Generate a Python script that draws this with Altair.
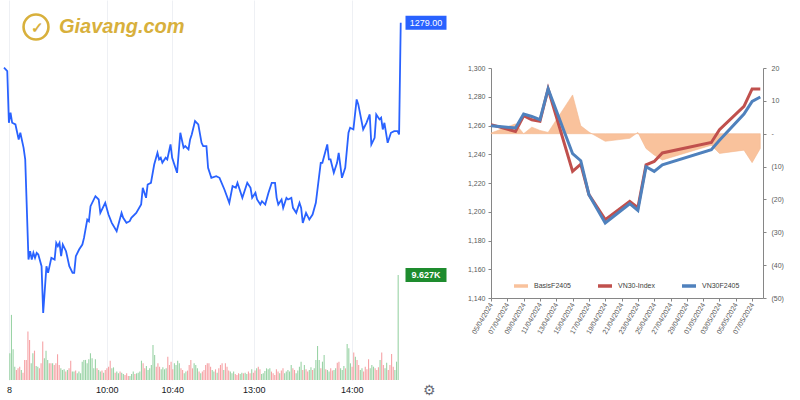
import altair as alt
import pandas as pd

# ---------------- Left panel: intraday VN30F2405 (1-minute) ----------------
tick_minutes = [0, 60, 100, 150, 210]
tick_labels = ["8", "10:00", "10:40", "13:00", "14:00"]
price_ticks = [1258, 1260, 1262, 1264, 1266, 1268, 1270, 1272, 1274, 1276, 1278, 1280]

price_minute = [-3, -1, 0, 1, 2, 4, 6, 7, 9, 10, 12, 13, 14, 15, 16, 17, 18, 20, 21, 22,
                23, 24, 26, 28, 29, 30, 31, 32, 33, 35, 37, 39, 40, 41, 43, 45, 46, 48, 49, 50,
                53, 55, 56, 59, 61, 63, 66, 69, 70, 72, 74, 75, 78, 81, 82, 84, 85, 87, 89, 91,
                92, 93, 94, 96, 97, 99, 100, 102, 103, 104, 105, 107, 108, 110, 111, 112, 114, 116, 118, 119,
                121, 122, 124, 127, 129, 132, 135, 137, 139, 140, 143, 146, 148, 149, 151, 152, 154, 155, 157, 159,
                161, 163, 164, 165, 167, 168, 170, 171, 173, 174, 176, 178, 179, 180, 182, 184, 186, 188, 189, 191,
                192, 195, 196, 197, 199, 201, 202, 204, 206, 208, 209, 211, 213, 214, 217, 219, 221, 222, 224, 225,
                227, 228, 229, 230, 232, 234, 236, 238, 239, 240]
price_value = [1276.3, 1276.1, 1273.0, 1273.6, 1273.0, 1272.9, 1272.0, 1272.4, 1271.5, 1270.8,
               1264.8, 1265.3, 1264.8, 1265.2, 1264.9, 1265.2, 1265.1, 1264.4, 1261.6, 1263.0,
               1264.4, 1264.0, 1264.9, 1264.8, 1265.8, 1265.6, 1265.8, 1265.0, 1265.7, 1265.3,
               1264.4, 1264.0, 1264.0, 1265.0, 1265.4, 1265.7, 1266.1, 1267.2, 1267.1, 1268.0,
               1268.6, 1268.4, 1267.6, 1268.2, 1267.5, 1267.0, 1266.5, 1267.6, 1267.3, 1267.0,
               1267.1, 1267.3, 1267.6, 1268.1, 1269.1, 1268.5, 1269.3, 1269.4, 1270.5, 1271.2,
               1270.8, 1270.9, 1270.6, 1270.9, 1270.8, 1271.7, 1270.9, 1270.3, 1270.0, 1271.2,
               1272.4, 1271.5, 1271.6, 1271.4, 1272.0, 1272.3, 1273.1, 1272.9, 1271.8, 1271.6,
               1271.6, 1270.3, 1269.7, 1269.8, 1269.7, 1269.0, 1268.2, 1269.2, 1269.1, 1269.4,
               1268.5, 1269.4, 1269.1, 1268.5, 1268.8, 1268.4, 1268.1, 1268.3, 1268.1, 1268.8,
               1269.4, 1269.4, 1268.5, 1268.1, 1268.4, 1267.9, 1268.5, 1268.4, 1268.5, 1267.9,
               1267.6, 1268.2, 1267.9, 1267.0, 1267.6, 1267.2, 1267.5, 1268.2, 1269.0, 1270.6,
               1270.6, 1271.7, 1270.8, 1270.8, 1270.0, 1270.6, 1271.2, 1269.7, 1270.3, 1272.4,
               1272.7, 1272.6, 1274.4, 1274.1, 1272.6, 1273.0, 1273.5, 1271.7, 1272.1, 1273.5,
               1273.2, 1273.3, 1272.6, 1273.0, 1271.8, 1272.4, 1272.5, 1272.5, 1272.3, 1279.0]

volume = [2450, 5970, 2820, 1220, 920, 1070, 1220, 920, 670, 1840,
          1840, 4440, 3670, 1530, 2450, 2690, 1290, 1220, 1070, 1530,
          3520, 1990, 2690, 1840, 1530, 1530, 1530, 1380, 1530, 2360,
          1380, 1070, 920, 980, 770, 920, 1070, 1770, 770, 770,
          860, 610, 770, 610, 1680, 1840, 1840, 1530, 1900, 2450,
          1990, 1070, 1900, 1070, 920, 770, 860, 670, 920, 1070,
          1220, 1770, 1070, 1160, 670, 770, 610, 770, 670, 550,
          460, 610, 370, 370, 550, 770, 550, 610, 670, 770,
          1770, 1530, 1070, 1290, 920, 1070, 1380, 3210, 2300, 1220,
          1530, 1220, 980, 1160, 980, 1070, 2140, 1380, 1680, 980,
          1530, 1380, 1770, 1530, 1070, 920, 610, 770, 860, 1380,
          1840, 1070, 1530, 1380, 1070, 770, 610,
          770, 920, 1380, 1530, 1530, 1220, 920, 770, 980, 670,
          1070, 1380, 1530, 920, 1530, 1220, 860, 770, 610, 770,
          550, 460, 610, 550, 670, 610, 670, 550, 770, 610,
          980, 670, 860, 1070, 1220, 980, 550, 610, 830, 1070,
          980, 1070, 770, 610, 460, 980, 770, 610, 860, 1070,
          610, 770, 920, 770, 1380, 1070, 920, 610, 860, 1220,
          1680, 920, 1380, 980, 770, 920, 1160, 920, 1070, 1840,
          3120, 1840, 1070, 1680, 2300, 980, 920, 770, 1070, 860,
          920, 1070, 1590, 1680, 1070, 920, 1290, 1070, 3300, 2910,
          1530, 1220, 2510, 2140, 1840, 1380, 920, 1070, 770, 1220,
          980, 1900, 1070, 1380, 1220, 1070, 920, 1160, 1840, 2510,
          1380, 1070, 1590, 920, 1380, 2390, 1220, 920, 1680, 9627]
volume_dir = ("ggggrrrgrr" "rrrggrggrr" "rgggrrgrrr" "rgggrgrrgg" "rggggggggg" "gggrggrgrr"
              "rrggrggrgg" "rrrgggrggg" "grrggggggr" "rrggggrrrr" "ggggrrggrr" "rrgggrg"
              "rrrrrrggrg" "rrrgrrrggg" "rrrggrggrr" "grrgrrgggg" "ggrrrrrgrr" "gggggrrggg"
              "grgrrggrgg" "ggrggrggrr" "ggrrgggrgg" "grrgrrggrr" "rrgggrrrgr" "rggrrrrggg")

last_price = price_value[-1]
last_volume = volume[-1]

# ---------------- Right panel: VN30-Index vs VN30F2405 and basis ----------------
dates = ["2024-04-05", "2024-04-08", "2024-04-09", "2024-04-10", "2024-04-11", "2024-04-12",
         "2024-04-15", "2024-04-16", "2024-04-17", "2024-04-19", "2024-04-22", "2024-04-23",
         "2024-04-24", "2024-04-25", "2024-04-26", "2024-05-02", "2024-05-03", "2024-05-06",
         "2024-05-07", "2024-05-08"]
vn30_index = [1260.6, 1255.9, 1266.8, 1264.0, 1262.9, 1285.4, 1228.1, 1233.1, 1211.9, 1194.5,
              1207.2, 1202.8, 1232.7, 1235.0, 1240.9, 1248.2, 1257.1, 1273.3, 1285.4, 1285.4]
vn30f2405 = [1259.9, 1258.3, 1268.0, 1266.3, 1264.0, 1285.4, 1240.4, 1235.5, 1211.9, 1192.2,
             1205.6, 1200.9, 1231.3, 1228.1, 1232.7, 1243.2, 1249.8, 1267.9, 1276.8, 1279.8]
basis = [0.2, 3.0, 0.0, 2.0, 1.0, 0.4, 11.8, 2.4, 0.5, -2.3,
         -1.4, 0.4, -4.5, -6.5, -8.0, -3.5, -6.0, -5.0, -8.8, -4.5]
date_ticks = [(4, 5), (4, 7), (4, 9), (4, 11), (4, 13), (4, 15), (4, 17), (4, 19), (4, 21),
              (4, 23), (4, 25), (4, 27), (4, 29), (5, 1), (5, 3), (5, 5), (5, 7)]
series_names = ["BasisF2405", "VN30-Index", "VN30F2405"]
series_colors = ["#F9C29C", "#C0504D", "#4F81BD"]

FONT = "Liberation Sans"

# ======== Left chart ========
x_expr = " : ".join(f"datum.value == {m} ? '{l}'" for m, l in zip(tick_minutes, tick_labels)) + " : ''"
price_scale = alt.Scale(domain=[1257.58, 1280.36], nice=False, zero=False)

price_df = pd.DataFrame({"minute": price_minute, "price": price_value})
line = alt.Chart(price_df).mark_line(color="#2962FF", strokeWidth=1.8).encode(
    x=alt.X("minute:Q", scale=alt.Scale(domain=[-3, 242], nice=False, zero=False),
            axis=alt.Axis(values=tick_minutes, labelExpr=x_expr, grid=True, gridColor="#eef0f4",
                          ticks=False, domain=False, labelFontSize=9, labelColor="#131722",
                          labelPadding=5, labelFlush=False, labelOverlap=False, title=None)),
    y=alt.Y("price:Q", scale=price_scale,
            axis=alt.Axis(orient="right", values=price_ticks, format=".2f", grid=True,
                          gridColor="#eef0f4", ticks=False, domain=False, labelFontSize=9,
                          labelColor="#131722", labelPadding=6, title=None)),
)
plab_df = pd.DataFrame({"price": [last_price], "text": [f"{last_price:.2f}"]})
pbox = alt.Chart(plab_df).mark_point(shape="M-1,-0.34H1V0.34H-1Z", size=1681, filled=True,
                                     opacity=1, color="#2962FF", strokeWidth=0).encode(
    x=alt.value(422), y=alt.Y("price:Q", scale=price_scale, axis=None))
ptext = alt.Chart(plab_df).mark_text(color="white", fontSize=9, font=FONT).encode(
    x=alt.value(422), y=alt.Y("price:Q", scale=price_scale, axis=None), text="text:N")

logo_df = pd.DataFrame({"t": ["Giavang.com"]})
logo_text = alt.Chart(logo_df).mark_text(fontSize=20, fontWeight="bold", fontStyle="italic",
                                         color="#D8B03C", font=FONT, align="left").encode(
    x=alt.value(55), y=alt.value(27), text="t:N")
logo_ring = alt.Chart(logo_df).mark_point(shape="circle", size=620, filled=False,
                                          color="#D8B03C", strokeWidth=2.6, opacity=1).encode(
    x=alt.value(32), y=alt.value(27))
logo_mark = alt.Chart(pd.DataFrame({"t": ["✓"]})).mark_text(fontSize=15, fontWeight="bold",
                                                             color="#D8B03C").encode(
    x=alt.value(33), y=alt.value(28), text="t:N")
gear = alt.Chart(pd.DataFrame({"t": ["⚙"]})).mark_text(fontSize=14, color="#6a6d78").encode(
    x=alt.value(425), y=alt.value(391), text="t:N")

price_layer = alt.layer(line, logo_ring, logo_mark, logo_text, gear, pbox, ptext)

vol_scale = alt.Scale(domain=[0, 34840], nice=False, zero=True)
vol_df = pd.DataFrame({
    "i": list(range(len(volume))),
    "vol": volume,
    "col": ["#9AD3A6" if d == "g" else "#F6A3A6" for d in volume_dir],
})
bars = alt.Chart(vol_df).mark_bar(size=1.1).encode(
    x=alt.X("i:Q", scale=alt.Scale(domain=[-0.5, len(volume) - 0.5], nice=False, zero=False), axis=None),
    y=alt.Y("vol:Q", scale=vol_scale, axis=None),
    color=alt.Color("col:N", scale=None),
)
vlab_df = pd.DataFrame({"vol": [last_volume], "text": [f"{last_volume/1000:.3f}K"]})
vbox = alt.Chart(vlab_df).mark_point(shape="M-1,-0.34H1V0.34H-1Z", size=1681, filled=True,
                                     opacity=1, color="#1E8C2E", strokeWidth=0).encode(
    x=alt.value(422), y=alt.Y("vol:Q", scale=vol_scale, axis=None))
vtext = alt.Chart(vlab_df).mark_text(color="white", fontSize=9, font=FONT, fontWeight="bold").encode(
    x=alt.value(422), y=alt.Y("vol:Q", scale=vol_scale, axis=None), text="text:N")
vol_layer = alt.layer(bars, vbox, vtext)

left = alt.layer(vol_layer, price_layer).resolve_scale(x="independent", y="independent").properties(
    width=400, height=380)

# ======== Right chart ========
x_dates = alt.X("date:T",
                scale=alt.Scale(type="utc", domain=[alt.DateTime(year=2024, month=4, date=5, utc=True),
                                                    alt.DateTime(year=2024, month=5, date=8, hours=8, utc=True)]),
                axis=alt.Axis(values=[alt.DateTime(year=2024, month=m, date=d, utc=True) for m, d in date_ticks],
                              format="%d/%m/%Y", labelAngle=300, labelFontSize=7, labelColor="#595959",
                              labelFont=FONT, domainColor="#868686", tickColor="#868686", tickSize=3,
                              labelPadding=2, grid=False, labelOverlap=False, labelFlush=False, title=None))
color_enc = alt.Color("series:N", scale=alt.Scale(domain=series_names, range=series_colors),
                      legend=alt.Legend(orient="none", legendX=21, legendY=209, direction="horizontal",
                                        title=None, symbolType="stroke", symbolSize=196,
                                        symbolStrokeWidth=3.5, labelFontSize=7, labelFont=FONT,
                                        labelColor="#404040", columnPadding=20, labelOffset=4))

basis_df = pd.DataFrame({"date": dates, "value": basis, "series": "BasisF2405"})
area = alt.Chart(basis_df).mark_area(stroke="#F4B890", strokeWidth=0.6, opacity=1).encode(
    x=x_dates,
    y=alt.Y("value:Q", scale=alt.Scale(domain=[-50, 20], nice=False),
            axis=alt.Axis(orient="right", values=list(range(-50, 21, 10)),
                          labelExpr="datum.value == 0 ? '-' : (datum.value < 0 ? '(' + abs(datum.value) + ')' : datum.value)",
                          labelFontSize=7, labelColor="#595959", labelFont=FONT, domainColor="#868686",
                          tickColor="#868686", tickSize=3, labelPadding=5, grid=False, title=None)),
    y2=alt.datum(0),
    color=color_enc,
)
lines_df = pd.concat([
    pd.DataFrame({"date": dates, "value": vn30_index, "series": "VN30-Index"}),
    pd.DataFrame({"date": dates, "value": vn30f2405, "series": "VN30F2405"}),
])
lines = alt.Chart(lines_df).mark_line(strokeWidth=3).encode(
    x=x_dates,
    y=alt.Y("value:Q", scale=alt.Scale(domain=[1140, 1300], nice=False, zero=False),
            axis=alt.Axis(orient="left", values=list(range(1140, 1301, 20)), format=",.0f",
                          labelFontSize=7, labelColor="#595959", labelFont=FONT, domainColor="#868686",
                          tickColor="#868686", tickSize=3, labelPadding=3, grid=False, title=None)),
    color=color_enc,
    order=alt.Order("series:N"),
)
right = alt.layer(area, lines).resolve_scale(y="independent").properties(width=272, height=230)

spacer = alt.Chart(pd.DataFrame({"v": [0]})).mark_point(size=0, opacity=0).encode(
    x=alt.value(0), y=alt.value(0)).properties(width=272, height=68)
right_col = alt.vconcat(spacer, right, spacing=0, bounds="flush").resolve_scale(color="independent")

chart = alt.hconcat(left, right_col, spacing=87, bounds="flush").resolve_scale(
    color="independent"
).properties(
    padding=0, background="white"
).configure(font=FONT).configure_view(stroke=None)

chart.save("out.html", embed_options={"renderer": "svg", "actions": False})
